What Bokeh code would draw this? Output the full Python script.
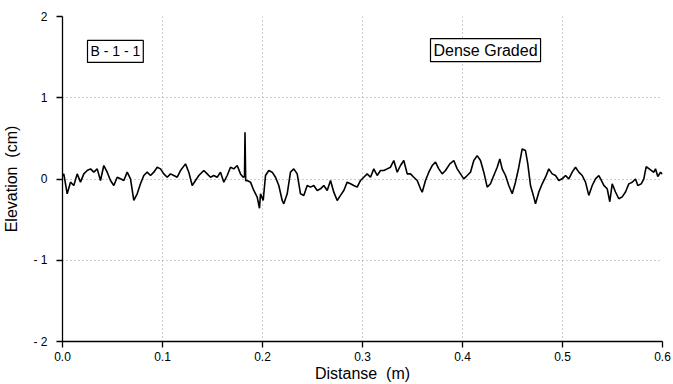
from bokeh.plotting import figure
from bokeh.models import Label, FixedTicker
from bokeh.embed import file_html
from bokeh.resources import INLINE

# Profile data
distance = [0.0000, 0.0013, 0.0047, 0.0080, 0.0113, 0.0147, 0.0180, 0.0213, 0.0247, 0.0280,
            0.0313, 0.0347, 0.0380, 0.0413, 0.0447, 0.0480, 0.0513, 0.0547, 0.0580, 0.0613,
            0.0647, 0.0680, 0.0713, 0.0747, 0.0780, 0.0813, 0.0847, 0.0880, 0.0913, 0.0947,
            0.0980, 0.1013, 0.1047, 0.1080, 0.1113, 0.1147, 0.1180, 0.1230, 0.1263, 0.1297,
            0.1330, 0.1363, 0.1413, 0.1447, 0.1480, 0.1513, 0.1547, 0.1580, 0.1613, 0.1647,
            0.1680, 0.1713, 0.1747, 0.1780, 0.1807, 0.1820, 0.1825, 0.1832, 0.1847, 0.1880,
            0.1913, 0.1947, 0.1970, 0.1980, 0.2007, 0.2030, 0.2063, 0.2097, 0.2130, 0.2163,
            0.2197, 0.2213, 0.2247, 0.2280, 0.2313, 0.2347, 0.2380, 0.2413, 0.2447, 0.2480,
            0.2513, 0.2547, 0.2580, 0.2613, 0.2647, 0.2680, 0.2713, 0.2747, 0.2780, 0.2813,
            0.2847, 0.2880, 0.2913, 0.2947, 0.2980, 0.3013, 0.3047, 0.3080, 0.3113, 0.3147,
            0.3180, 0.3213, 0.3247, 0.3280, 0.3313, 0.3347, 0.3380, 0.3413, 0.3447, 0.3480,
            0.3513, 0.3547, 0.3580, 0.3597, 0.3630, 0.3663, 0.3697, 0.3730, 0.3763, 0.3797,
            0.3830, 0.3873, 0.3913, 0.3947, 0.3980, 0.4013, 0.4047, 0.4080, 0.4113, 0.4147,
            0.4180, 0.4213, 0.4247, 0.4280, 0.4313, 0.4347, 0.4373, 0.4397, 0.4430, 0.4463,
            0.4497, 0.4530, 0.4563, 0.4597, 0.4630, 0.4653, 0.4680, 0.4713, 0.4730, 0.4763,
            0.4797, 0.4830, 0.4863, 0.4897, 0.4930, 0.4963, 0.4997, 0.5030, 0.5063, 0.5097,
            0.5130, 0.5163, 0.5197, 0.5230, 0.5263, 0.5297, 0.5330, 0.5363, 0.5380, 0.5413,
            0.5447, 0.5473, 0.5497, 0.5530, 0.5563, 0.5597, 0.5630, 0.5663, 0.5697, 0.5730,
            0.5753, 0.5787, 0.5813, 0.5837, 0.5880, 0.5913, 0.5930, 0.5953, 0.5980, 0.6000]

elevation = [0.040, 0.063, -0.182, -0.039, -0.080, 0.063, -0.039, 0.063, 0.104, 0.125,
             0.084, 0.125, -0.018, 0.166, 0.084, -0.018, -0.080, 0.022, 0.002, -0.018,
             0.084, 0.002, -0.264, -0.182, -0.059, 0.043, 0.084, 0.043, 0.084, 0.145,
             0.125, 0.063, 0.022, 0.063, 0.043, 0.022, 0.104, 0.186, 0.084, -0.080,
             -0.018, 0.043, 0.104, 0.063, 0.022, 0.043, 0.022, 0.084, -0.039, 0.043,
             0.145, 0.125, 0.166, 0.063, 0.022, 0.030, 0.575, -0.020, -0.018, -0.039,
             -0.141, -0.223, -0.360, -0.182, -0.264, 0.043, 0.104, 0.084, 0.022, -0.080,
             -0.264, -0.305, -0.182, 0.084, 0.125, 0.063, -0.182, -0.202, -0.080, -0.100,
             -0.080, -0.141, -0.121, -0.080, -0.141, -0.018, -0.162, -0.264, -0.202, -0.141,
             -0.039, -0.059, -0.080, -0.100, -0.018, 0.022, 0.063, 0.022, 0.125, 0.043,
             0.104, 0.104, 0.125, 0.145, 0.227, 0.084, 0.166, 0.227, 0.063, 0.063,
             0.022, -0.018, -0.121, -0.162, -0.018, 0.084, 0.166, 0.207, 0.125, 0.063,
             0.104, 0.186, 0.227, 0.125, 0.063, 0.002, 0.043, 0.084, 0.227, 0.288,
             0.227, 0.084, -0.100, -0.059, 0.043, 0.145, 0.247, 0.125, 0.043, -0.080,
             -0.182, -0.039, 0.145, 0.370, 0.350, 0.186, -0.080, -0.223, -0.305, -0.162,
             -0.059, 0.022, 0.125, 0.063, 0.043, -0.018, 0.002, 0.043, 0.002, 0.084,
             0.145, 0.084, 0.043, -0.039, -0.202, -0.080, 0.002, 0.043, 0.004, -0.078,
             -0.120, -0.280, -0.060, -0.160, -0.243, -0.220, -0.160, -0.060, -0.040, 0.000,
             -0.080, -0.060, 0.000, 0.153, 0.112, 0.083, 0.125, 0.030, 0.083, 0.060]

x_ticks = [0.0, 0.1, 0.2, 0.3, 0.4, 0.5, 0.6]
x_tick_labels = ["0.0", "0.1", "0.2", "0.3", "0.4", "0.5", "0.6"]
y_ticks = [-2, -1, 0, 1, 2]
y_tick_labels = ["- 2", "- 1", "0", "1", "2"]

FONT = "Liberation Sans"

p = figure(width=672, height=384, x_range=(0, 0.6), y_range=(-2, 2),
           output_backend="svg", toolbar_location=None,
           min_border_left=62, min_border_right=10, min_border_top=16, min_border_bottom=42)
p.outline_line_color = None
p.background_fill_color = "white"

p.line(distance, elevation, line_color="black", line_width=1.6)

p.xaxis.ticker = FixedTicker(ticks=x_ticks)
p.yaxis.ticker = FixedTicker(ticks=y_ticks)
p.xaxis.major_label_overrides = {t: l for t, l in zip(x_ticks, x_tick_labels)}
p.yaxis.major_label_overrides = {t: l for t, l in zip(y_ticks, y_tick_labels)}

for ax in (p.xaxis[0], p.yaxis[0]):
    ax.axis_line_color = "black"
    ax.axis_line_width = 1.3
    ax.major_tick_line_color = "black"
    ax.major_tick_line_width = 1.3
    ax.major_tick_in = 0
    ax.major_tick_out = 6
    ax.minor_tick_line_color = None
    ax.major_label_text_font = FONT
    ax.major_label_text_font_size = "12px"
    ax.major_label_text_color = "black"
    ax.axis_label_text_font = FONT
    ax.axis_label_text_font_size = "16px"
    ax.axis_label_text_font_style = "normal"
    ax.axis_label_text_color = "black"

p.xaxis.axis_label = "Distanse \u00a0(m)"
p.yaxis.axis_label = "Elevation \u00a0(cm)"
p.xaxis.major_label_standoff = 4
p.xaxis.axis_label_standoff = 1
p.yaxis.major_label_standoff = 9
p.yaxis.axis_label_standoff = 10

p.xgrid.ticker = FixedTicker(ticks=x_ticks[1:])
p.ygrid.ticker = FixedTicker(ticks=y_ticks[1:])
for g in (p.xgrid[0], p.ygrid[0]):
    g.grid_line_color = "#9a9a9a"
    g.grid_line_dash = "1 3"
    g.grid_line_width = 1

lab1 = Label(x=0.025, y=1.57, text="B - 1 - 1", text_align="left", text_baseline="middle",
             text_font=FONT, text_font_size="14px", text_color="black",
             border_line_color="black", border_line_width=1.2,
             background_fill_color="white", padding=3)
lab2 = Label(x=0.368, y=1.585, text="Dense Graded", text_align="left", text_baseline="middle",
             text_font=FONT, text_font_size="16px", text_color="black",
             border_line_color="black", border_line_width=1.2,
             background_fill_color="white", padding=3)
p.add_layout(lab1)
p.add_layout(lab2)

open("out.html", "w").write(file_html(p, INLINE))
